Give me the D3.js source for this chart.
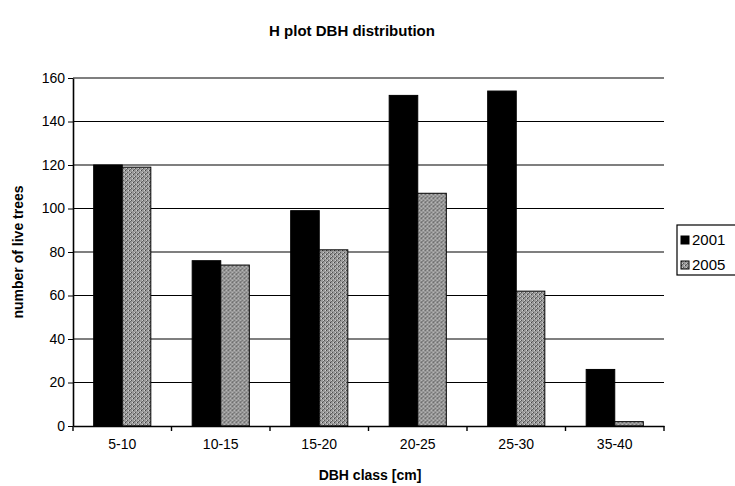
<html>
<head>
<meta charset="utf-8">
<script src="https://cdn.jsdelivr.net/npm/d3@7"></script>
<style>
body { margin: 0; background: #fff; }
text { font-family: "Liberation Sans", Arial, sans-serif; }
</style>
</head>
<body>
<script>

var classes = ["5-10", "10-15", "15-20", "20-25", "25-30", "35-40"]
var years = ["2001", "2005"]
var trees2001 = [120, 76, 99, 152, 154, 26]
var trees2005 = [119, 74, 81, 107, 62, 2]
var yTicks = [0, 20, 40, 60, 80, 100, 120, 140, 160]

var margin = {top: 78, right: 71, bottom: 60, left: 73}
  , width = 735 - margin.left - margin.right
  , height = 486 - margin.top - margin.bottom;

var svg = d3.select("body").append("svg").attr("width", 735).attr("height", 486)

// dithered grey like the scanned original
var defs = svg.append("defs")
var pat = defs.append("pattern").attr("id", "grey").attr("patternUnits", "userSpaceOnUse")
  .attr("width", 4).attr("height", 4)
pat.append("rect").attr("width", 4).attr("height", 4).attr("fill", "#9a9a9a")
pat.append("rect").attr("x", 0).attr("y", 0).attr("width", 1).attr("height", 1).attr("fill", "#444")
pat.append("rect").attr("x", 2).attr("y", 2).attr("width", 1).attr("height", 1).attr("fill", "#555")
pat.append("rect").attr("x", 3).attr("y", 0).attr("width", 1).attr("height", 1).attr("fill", "#d0d0d0")
pat.append("rect").attr("x", 1).attr("y", 2).attr("width", 1).attr("height", 1).attr("fill", "#ccc")
pat.append("rect").attr("x", 1).attr("y", 3).attr("width", 1).attr("height", 1).attr("fill", "#666")

var fills = {"2001": "#000", "2005": "url(#grey)"}
var font = "'Liberation Sans', Arial, sans-serif"

var g = svg.append("g").attr("transform", "translate(" + margin.left + "," + margin.top + ")")

var xScale = d3.scaleBand().domain(classes).range([0, width])
var xInner = d3.scaleBand().domain(years)
  .range([xScale.bandwidth() * 0.21, xScale.bandwidth() * 0.79])
var yScale = d3.scaleLinear().domain([0, 160]).range([height, 0])

// gridlines
g.selectAll(".grid").data(yTicks.slice(1)).enter().append("line")
  .attr("x1", 0).attr("x2", width)
  .attr("y1", d => yScale(d)).attr("y2", d => yScale(d))
  .attr("stroke", "#000").attr("stroke-width", 1.2)

var rows = classes.map(function(c, i) { return {cls: c, "2001": trees2001[i], "2005": trees2005[i]} })

var groups = g.selectAll(".grp").data(rows).enter().append("g")
  .attr("transform", d => "translate(" + xScale(d.cls) + ",0)")

groups.selectAll("rect").data(d => years.map(y => ({year: y, v: d[y]}))).enter().append("rect")
  .attr("x", d => xInner(d.year))
  .attr("y", d => yScale(d.v))
  .attr("width", xInner.bandwidth())
  .attr("height", d => height - yScale(d.v))
  .attr("fill", d => fills[d.year])
  .attr("stroke", "#000").attr("stroke-width", 1)

var yAxis = g.append("g").call(d3.axisLeft(yScale).tickValues(yTicks).tickSize(5).tickSizeOuter(0))
yAxis.select(".domain").attr("stroke-width", 1.6)
yAxis.selectAll("text").attr("font-size", 14).attr("fill", "#000")
  .style("font-family", font)

var xAxis = g.append("g").attr("transform", "translate(0," + height + ")")
  .call(d3.axisBottom(xScale).tickSize(0).tickSizeOuter(0))
xAxis.select(".domain").attr("stroke-width", 1.6)
xAxis.selectAll("text").attr("font-size", 14).attr("dy", "1.45em").attr("fill", "#000")
  .style("font-family", font)

// tick marks between categories
var bounds = d3.range(classes.length + 1).map(i => i * xScale.step())
xAxis.selectAll(".sep").data(bounds).enter().append("line")
  .attr("x1", d => d).attr("x2", d => d).attr("y1", 0).attr("y2", 5)
  .attr("stroke", "#000").attr("stroke-width", 1.4)

svg.append("text")
  .attr("x", 352).attr("y", 36).attr("text-anchor", "middle")
  .attr("font-size", 15).attr("font-weight", "bold")
  .text("H plot DBH distribution")

svg.append("text")
  .attr("x", 370).attr("y", 480).attr("text-anchor", "middle")
  .attr("font-size", 14).attr("font-weight", "bold")
  .text("DBH class [cm]")

svg.append("text")
  .attr("transform", "translate(23," + (margin.top + height / 2) + ") rotate(-90)")
  .attr("text-anchor", "middle")
  .attr("font-size", 14).attr("font-weight", "bold")
  .text("number of live trees")

// legend
var leg = svg.append("g").attr("transform", "translate(677,225)")
leg.append("rect").attr("width", 62).attr("height", 50)
  .attr("fill", "#fff").attr("stroke", "#000").attr("stroke-width", 1.2)
var items = leg.selectAll(".item").data(years).enter().append("g")
  .attr("transform", (d, i) => "translate(4," + (11 + i * 25) + ")")
items.append("rect").attr("width", 8).attr("height", 8)
  .attr("fill", d => fills[d]).attr("stroke", "#000")
items.append("text").attr("x", 11).attr("y", 9)
  .attr("font-size", 15).text(d => d)

</script>
</body>
</html>
